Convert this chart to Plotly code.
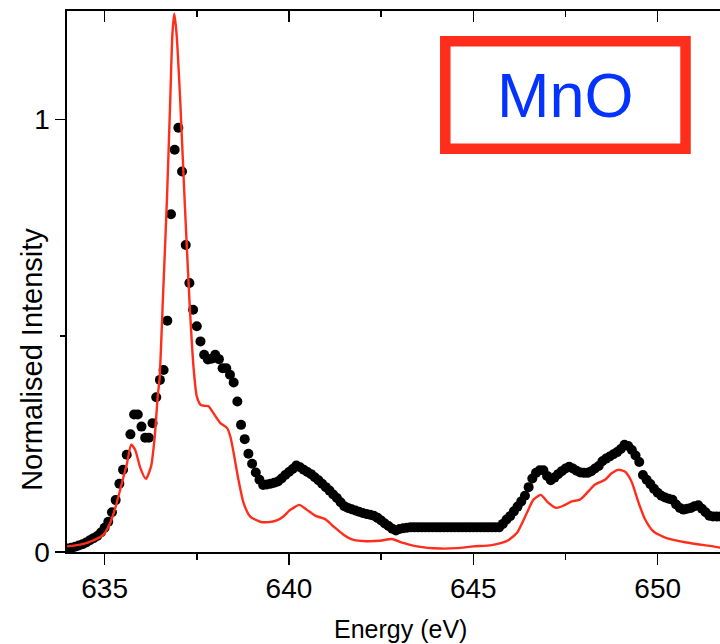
import plotly.graph_objects as go

# ---- measured data (black dots) ----
dots_energy = [
    634.0, 634.1, 634.2, 634.3, 634.4, 634.5, 634.6, 634.7, 634.8, 634.9,
    635.0, 635.1, 635.2, 635.3, 635.4, 635.5, 635.6, 635.7, 635.8, 635.9,
    636.0, 636.1, 636.2, 636.3, 636.4, 636.5, 636.6, 636.7, 636.8, 636.9,
    637.0, 637.1, 637.2, 637.3, 637.4, 637.5, 637.6, 637.7, 637.8, 637.9,
    638.0, 638.1, 638.2, 638.3, 638.4, 638.5, 638.6, 638.7, 638.8, 638.9,
    639.0, 639.1, 639.2, 639.3, 639.4, 639.5, 639.6, 639.7, 639.8, 639.9,
    640.0, 640.1, 640.2, 640.3, 640.4, 640.5, 640.6, 640.7, 640.8, 640.9,
    641.0, 641.1, 641.2, 641.3, 641.4, 641.5, 641.6, 641.7, 641.8, 641.9,
    642.0, 642.1, 642.2, 642.3, 642.4, 642.5, 642.6, 642.7, 642.8, 642.9,
    643.0, 643.1, 643.2, 643.3, 643.4, 643.5, 643.6, 643.7, 643.8, 643.9,
    644.0, 644.1, 644.2, 644.3, 644.4, 644.5, 644.6, 644.7, 644.8, 644.9,
    645.0, 645.1, 645.2, 645.3, 645.4, 645.5, 645.6, 645.7, 645.8, 645.9,
    646.0, 646.1, 646.2, 646.3, 646.4, 646.5, 646.6, 646.7, 646.8, 646.9,
    647.0, 647.1, 647.2, 647.3, 647.4, 647.5, 647.6, 647.7, 647.8, 647.9,
    648.0, 648.1, 648.2, 648.3, 648.4, 648.5, 648.6, 648.7, 648.8, 648.9,
    649.0, 649.1, 649.2, 649.3, 649.4, 649.5, 649.6, 649.7, 649.8, 649.9,
    650.0, 650.1, 650.2, 650.3, 650.4, 650.5, 650.6, 650.7, 650.8, 650.9,
    651.0, 651.1, 651.2, 651.3, 651.4, 651.5, 651.6, 651.7,
]
dots_intensity = [
    0.008, 0.010, 0.012, 0.015, 0.018, 0.022, 0.027, 0.032, 0.037, 0.045,
    0.056, 0.070, 0.092, 0.120, 0.158, 0.190, 0.225, 0.272, 0.318, 0.318,
    0.290, 0.264, 0.264, 0.298, 0.358, 0.398, 0.421, 0.535, 0.781, 0.930,
    0.981, 0.880, 0.710, 0.622, 0.560, 0.522, 0.487, 0.456, 0.445, 0.447,
    0.456, 0.446, 0.425, 0.425, 0.410, 0.392, 0.348, 0.294, 0.261, 0.227,
    0.204, 0.184, 0.167, 0.155, 0.156, 0.158, 0.160, 0.163, 0.170, 0.178,
    0.185, 0.192, 0.200, 0.196, 0.190, 0.185, 0.180, 0.173, 0.166, 0.158,
    0.150, 0.142, 0.133, 0.125, 0.115, 0.106, 0.102, 0.099, 0.096, 0.093,
    0.090, 0.088, 0.086, 0.084, 0.079, 0.073, 0.066, 0.060, 0.054, 0.050,
    0.053, 0.055, 0.056, 0.057, 0.057, 0.057, 0.057, 0.057, 0.057, 0.057,
    0.057, 0.057, 0.057, 0.057, 0.057, 0.057, 0.057, 0.057, 0.057, 0.057,
    0.057, 0.057, 0.057, 0.057, 0.057, 0.057, 0.057, 0.057, 0.065, 0.075,
    0.083, 0.094, 0.105, 0.117, 0.130, 0.150, 0.170, 0.183, 0.189, 0.189,
    0.176, 0.166, 0.172, 0.180, 0.187, 0.193, 0.197, 0.193, 0.188, 0.184,
    0.183, 0.183, 0.187, 0.193, 0.199, 0.210, 0.216, 0.221, 0.226, 0.231,
    0.238, 0.248, 0.245, 0.236, 0.223, 0.208, 0.178, 0.167, 0.157, 0.146,
    0.137, 0.130, 0.126, 0.123, 0.121, 0.110, 0.102, 0.098, 0.100, 0.102,
    0.106, 0.108, 0.100, 0.092, 0.084, 0.082, 0.082, 0.082,
]

# ---- calculated spectrum (red line) ----
calc_energy = [
    633.98, 634.34, 634.70, 634.97, 635.15, 635.29, 635.47, 635.61, 635.72, 635.83,
    635.97, 636.12, 636.26, 636.36, 636.44, 636.49, 636.58, 636.69, 636.78, 636.84,
    636.89, 636.95, 637.05, 637.17, 637.30, 637.41, 637.50, 637.61, 637.72, 637.82,
    637.95, 638.14, 638.32, 638.41, 638.50, 638.63, 638.77, 638.95, 639.22, 639.45,
    639.67, 639.85, 640.00, 640.12, 640.28, 640.48, 640.71, 640.98, 641.21, 641.48,
    641.75, 642.11, 642.47, 642.79, 643.10, 643.47, 644.10, 644.55, 645.00, 645.50,
    645.90, 646.18, 646.45, 646.63, 646.83, 647.03, 647.24, 647.44, 647.67, 647.89,
    648.12, 648.30, 648.57, 648.75, 648.93, 649.11, 649.29, 649.47, 649.65, 649.88,
    650.24, 650.78, 651.50, 651.70,
]
calc_intensity = [
    0.013, 0.017, 0.027, 0.040, 0.067, 0.102, 0.160, 0.206, 0.248, 0.236,
    0.194, 0.169, 0.198, 0.267, 0.360, 0.400, 0.583, 0.814, 1.045, 1.200,
    1.245, 1.200, 1.045, 0.814, 0.583, 0.429, 0.360, 0.340, 0.338, 0.337,
    0.321, 0.298, 0.287, 0.267, 0.229, 0.167, 0.113, 0.082, 0.070, 0.069,
    0.073, 0.082, 0.095, 0.102, 0.109, 0.098, 0.084, 0.076, 0.059, 0.040,
    0.028, 0.025, 0.026, 0.030, 0.021, 0.013, 0.008, 0.009, 0.013, 0.016,
    0.025, 0.044, 0.090, 0.121, 0.132, 0.114, 0.102, 0.107, 0.117, 0.121,
    0.140, 0.156, 0.167, 0.182, 0.190, 0.186, 0.163, 0.117, 0.077, 0.048,
    0.032, 0.022, 0.013, 0.010,
]

x_range = [633.98, 651.69]
y_range = [0, 1.251]
x_ticks = [635, 640, 645, 650]
y_ticks = [0, 1]
x_title = "Energy (eV)"
y_title = "Normalised Intensity"
label_text = "MnO"

FONT = "Liberation Sans, Arial, Helvetica, sans-serif"
RED = "#ff2e1c"

fig = go.Figure()
fig.add_trace(go.Scatter(
    x=dots_energy, y=dots_intensity, mode="markers",
    marker=dict(color="black", size=10, line=dict(width=0)),
    showlegend=False, hoverinfo="skip",
))
fig.add_trace(go.Scatter(
    x=calc_energy, y=calc_intensity, mode="lines",
    line=dict(color=RED, width=2.4, shape="spline", smoothing=0.6),
    showlegend=False, hoverinfo="skip",
))
# empty trace so the top (mirror) axis is drawn
fig.add_trace(go.Scatter(x=[], y=[], xaxis="x2", showlegend=False))

fig.update_layout(
    width=720, height=644,
    margin=dict(l=67, r=0, t=11, b=92, autoexpand=False),
    paper_bgcolor="white", plot_bgcolor="white",
    font=dict(family=FONT, color="black"),
    xaxis=dict(
        range=x_range, showgrid=False, zeroline=False, automargin=False,
        showline=True, linecolor="black", linewidth=1.6,
        tickmode="array", tickvals=x_ticks, ticktext=[str(v) for v in x_ticks],
        ticks="outside", ticklen=11, tickwidth=1.5, tickcolor="black",
        minor=dict(dtick=2.5, tick0=635, ticks="outside", ticklen=6, tickwidth=1.5, tickcolor="black"),
        tickfont=dict(size=28, family=FONT),
        ticklabelstandoff=0,
    ),
    xaxis2=dict(
        range=x_range, overlaying="x", side="top", matches="x", automargin=False,
        showgrid=False, zeroline=False,
        showline=True, linecolor="black", linewidth=1.6,
        tickmode="array", tickvals=x_ticks, showticklabels=False,
        ticks="inside", ticklen=11, tickwidth=1.5, tickcolor="black",
        minor=dict(dtick=2.5, tick0=635, ticks="inside", ticklen=6, tickwidth=1.5, tickcolor="black"),
    ),
    yaxis=dict(
        range=y_range, showgrid=False, zeroline=False, automargin=False,
        showline=True, linecolor="black", linewidth=1.6,
        tickmode="array", tickvals=y_ticks, ticktext=[str(v) for v in y_ticks],
        ticks="outside", ticklen=10, tickwidth=1.5, tickcolor="black",
        minor=dict(dtick=0.5, tick0=0, ticks="outside", ticklen=5, tickwidth=1.5, tickcolor="black"),
        tickfont=dict(size=28, family=FONT),
        ticklabelstandoff=0,
    ),
)

# axis titles
fig.add_annotation(
    xref="paper", yref="paper", x=0.510, y=-0.1417,
    text=x_title, showarrow=False,
    font=dict(size=25, family=FONT, color="black"),
    xanchor="center", yanchor="middle",
)
fig.add_annotation(
    xref="paper", yref="paper", x=-0.0536, y=0.357,
    text=y_title, showarrow=False, textangle=-90,
    font=dict(size=29, family=FONT, color="black"),
    xanchor="center", yanchor="middle",
)

# label box
fig.add_shape(
    type="rect", xref="paper", yref="paper",
    x0=0.5793, x1=0.9472, y0=0.7456, y1=0.944,
    line=dict(color=RED, width=10.5), fillcolor="white", layer="above",
)
fig.add_annotation(
    xref="paper", yref="paper", x=0.763, y=0.844,
    text=label_text, showarrow=False,
    font=dict(size=63, color="#0433ff", family=FONT),
    xanchor="center", yanchor="middle",
)

fig.write_html(
    "out.html",
    config={"displayModeBar": False, "staticPlot": True},
    post_script="document.body.style.margin='0px';",
)
